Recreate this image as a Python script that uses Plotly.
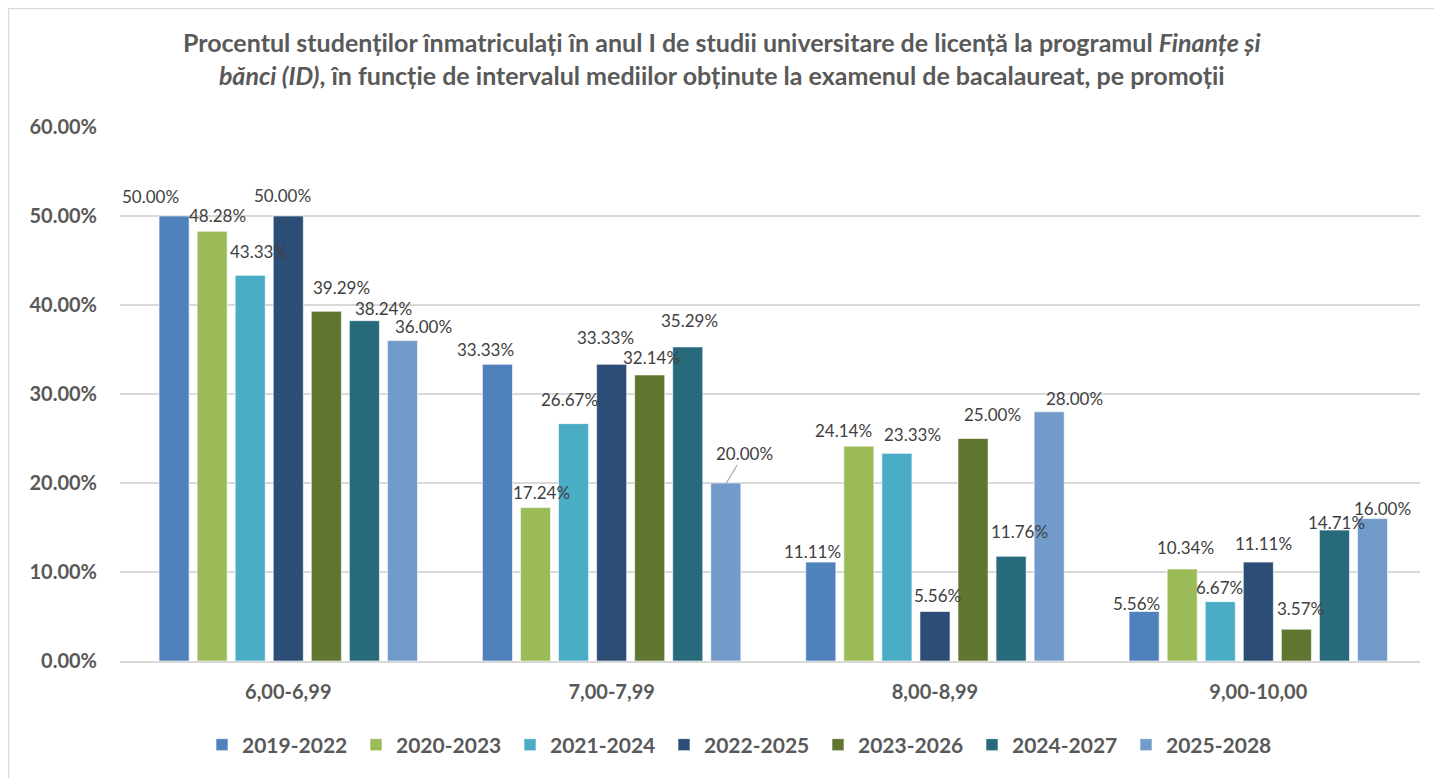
import plotly.graph_objects as go

categories = ["6,00-6,99", "7,00-7,99", "8,00-8,99", "9,00-10,00"]
series_names = ["2019-2022", "2020-2023", "2021-2024", "2022-2025", "2023-2026", "2024-2027", "2025-2028"]
s2019 = [50.00, 33.33, 11.11, 5.56]
s2020 = [48.28, 17.24, 24.14, 10.34]
s2021 = [43.33, 26.67, 23.33, 6.67]
s2022 = [50.00, 33.33, 5.56, 11.11]
s2023 = [39.29, 32.14, 25.00, 3.57]
s2024 = [38.24, 35.29, 11.76, 14.71]
s2025 = [36.00, 20.00, 28.00, 16.00]
series_values = [s2019, s2020, s2021, s2022, s2023, s2024, s2025]
colors = ["#4f81bd", "#9bbb59", "#4bacc6", "#2c4d75", "#5f7530", "#276a7c", "#729aca"]
y_ticks = [0, 10, 20, 30, 40, 50, 60]
y_tick_labels = ["0.00%", "10.00%", "20.00%", "30.00%", "40.00%", "50.00%", "60.00%"]

# data-label placement nudges (pixels), per series, per category (layout only)
label_dx = [[-23, -11, -8, -7], [6, 6, -15, 4], [8, -4, 16, -1], [-6, -6, 3, 5],
            [15, 2, 19, 4], [19, 1, 8, 2], [20, 18, 25, 9]]
label_dy = [[20, 15, 11, 8], [16, 15, 16, 21], [24, 24, 19, 14], [21, 27, 16, 19],
            [24, 17, 24, 21], [12, 26, 25, 8], [14, 30, 13, 10]]

font_family = "Lato, 'Open Sans', sans-serif"

L, R, T, B = 112, 30, 119, 125
PW = 1442 - L - R
PH = 778 - T - B
BARGAP = 0.176
pitch = PW / len(categories) * (1 - BARGAP) / len(series_names)

fig = go.Figure()
annotations = []
for i, (name, vals, col) in enumerate(zip(series_names, series_values, colors)):
    fig.add_trace(go.Bar(
        name=name, x=categories, y=vals,
        marker=dict(color=col, line=dict(color="rgba(255,255,255,0.6)", width=1)),
        hoverinfo="x+y+name",
    ))
    for j, (cat, v) in enumerate(zip(categories, vals)):
        base_shift = (i - (len(series_names) - 1) / 2) * pitch
        leader = (i == 6 and j == 1)
        if leader:
            annotations.append(dict(
                x=cat, y=v, xref="x", yref="y", text=f"{v:.2f}%",
                xshift=base_shift, showarrow=True, arrowhead=0, arrowwidth=1.2,
                arrowcolor="#a6a6a6", ax=label_dx[i][j], ay=-label_dy[i][j], standoff=0,
                font=dict(family=font_family, size=17, color="#404040"),
            ))
        else:
            annotations.append(dict(
                x=cat, y=v, xref="x", yref="y", text=f"{v:.2f}%",
                xshift=base_shift + label_dx[i][j], yshift=label_dy[i][j],
                yanchor="middle", xanchor="center", showarrow=False,
                font=dict(family=font_family, size=17, color="#404040"),
            ))

fig.update_layout(
    width=1442, height=778,
    paper_bgcolor="white", plot_bgcolor="white",
    barmode="group", bargap=BARGAP, bargroupgap=0.21,
    margin=dict(l=L, r=R, t=T, b=B, autoexpand=False),
    title=dict(
        text="<b>Procentul studenților înmatriculați în anul I de studii universitare de licență la programul <i>Finanțe și</i><br><i>bănci (ID)</i>, în funcție de intervalul mediilor obținute la examenul de bacalaureat, pe promoții</b>",
        x=0.495, xanchor="center", y=0.943, yanchor="middle",
        font=dict(family=font_family, size=25, color="#595959"),
    ),
    font=dict(family=font_family, color="#595959"),
    xaxis=dict(
        showgrid=False, showline=True, linecolor="#d9d9d9", linewidth=1.5,
        ticks="", tickfont=dict(family=font_family, size=20, color="#595959", weight="bold"),
        ticklabelstandoff=12,
    ),
    yaxis=dict(
        range=[0, 60], tickvals=y_ticks, ticktext=y_tick_labels,
        showgrid=True, gridcolor="#d9d9d9", gridwidth=1.5, zeroline=False,
        tickfont=dict(family=font_family, size=20, color="#595959", weight="bold"),
        ticklabelstandoff=22,
    ),
    legend=dict(
        orientation="h", x=(733 - L) / PW, xanchor="center", y=-84 / PH, yanchor="middle",
        font=dict(family=font_family, size=21, color="#595959", weight="bold"),
        itemwidth=30, traceorder="normal", entrywidth=109, entrywidthmode="pixels",
    ),
    annotations=annotations,
    shapes=[dict(type="rect", xref="paper", yref="paper",
                 x0=-(L - 0.5) / PW, x1=1 + (R + 20) / PW, y0=-(B + 20) / PH, y1=1 + (T - 0.5) / PH,
                 line=dict(color="#d9d9d9", width=1.5), fillcolor="rgba(0,0,0,0)", layer="below")],
)

fig.write_html("out.html")
